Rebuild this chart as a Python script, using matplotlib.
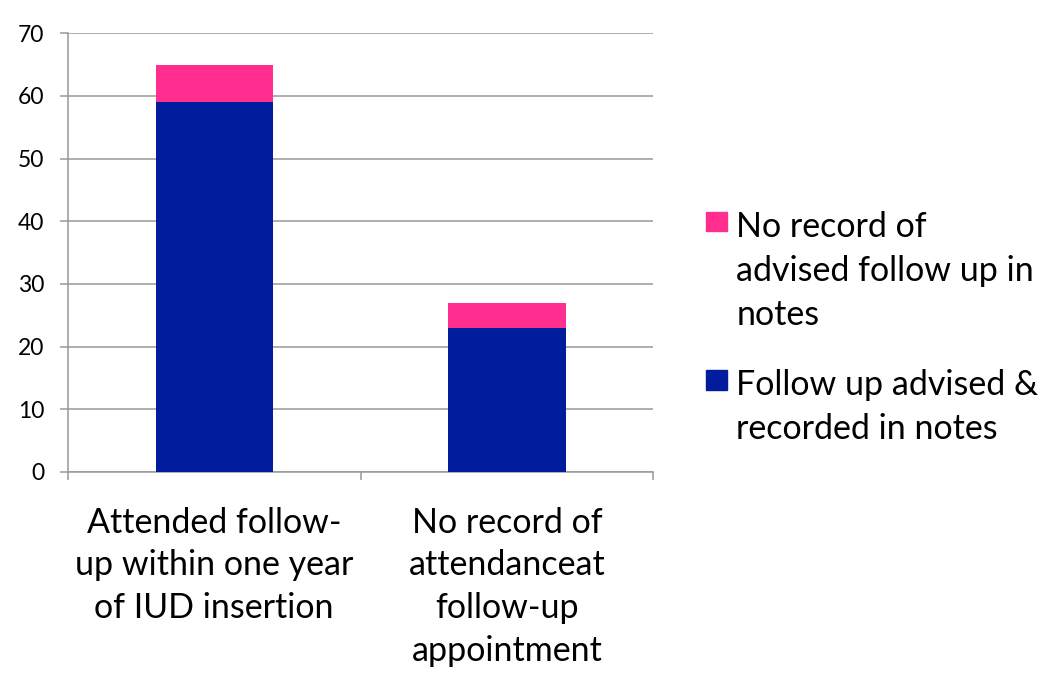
import matplotlib.pyplot as plt
import numpy as np
from matplotlib.patches import Rectangle

# ========== data ==========
categories = ['Attended follow-\nup within one year\nof IUD insertion',
              'No record of\nattendanceat\nfollow-up\nappointment']
advised = [59, 23]       # Follow up advised & recorded in notes
no_record = [6, 4]       # No record of advised follow up in notes
series_labels = ['No record of\nadvised follow up in\nnotes',
                 'Follow up advised &\nrecorded in notes']
colors = ['#FF2E8F', '#021C9E']
y_ticks = [0, 10, 20, 30, 40, 50, 60, 70]

plt.rcParams['font.family'] = ['Lato', 'DejaVu Sans']

fig = plt.figure(figsize=(10.46, 6.74), dpi=100)
ax = fig.add_axes([0.0647, 0.300, 0.560, 0.6506])

x = np.arange(len(categories))
ax.bar(x, advised, width=0.40, color=colors[1], zorder=3)
ax.bar(x, no_record, width=0.40, bottom=advised, color=colors[0], zorder=3)

ax.set_xlim(-0.5, len(categories) - 0.5)
ax.set_ylim(0, 70)
ax.set_yticks(y_ticks)
ax.tick_params(axis='y', labelsize=16.5, length=6, width=1.1, color='#999999', pad=11)
ax.yaxis.grid(True, color='#999999', linewidth=1.1, zorder=0)

ax.set_xticks(x)
ax.set_xticklabels(categories, fontsize=24.5, linespacing=1.42)
ax.tick_params(axis='x', length=0, pad=25)
ax.set_xticks(np.arange(-0.5, len(categories)), minor=True)
ax.tick_params(axis='x', which='minor', length=6, width=1.1, color='#999999')

for s in ['top', 'right']:
    ax.spines[s].set_visible(False)
for s in ['left', 'bottom']:
    ax.spines[s].set_color('#999999')
    ax.spines[s].set_linewidth(1.1)

# ========== legend (drawn by hand, markers on first line) ==========
legend_y = [0.671, 0.436]
for lab, col, yy in zip(series_labels, colors, legend_y):
    fig.patches.append(Rectangle((0.675, yy - 0.014), 0.020, 0.029,
                                 transform=fig.transFigure, color=col))
    fig.text(0.704, yy + 0.016, lab, fontsize=24.5, va='top', ha='left',
             linespacing=1.46)

fig.savefig('out.png', dpi=100)
